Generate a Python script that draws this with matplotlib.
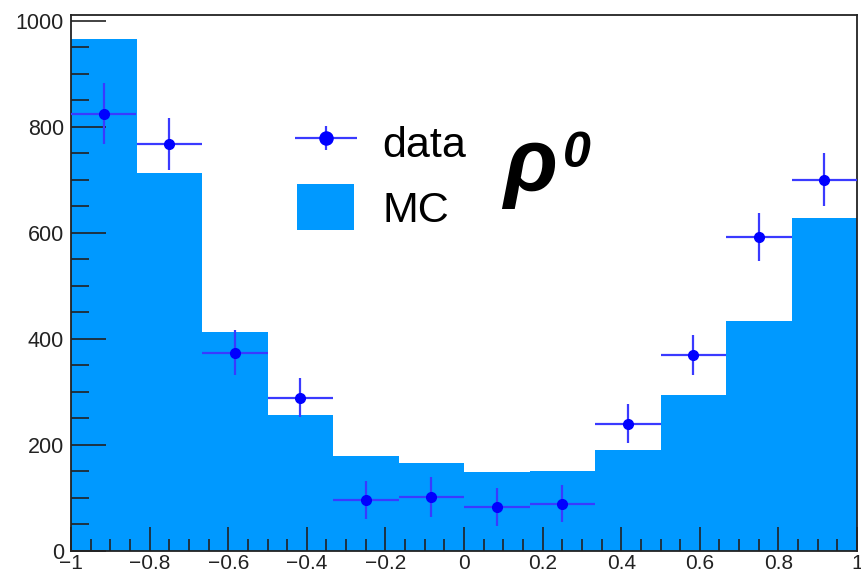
import numpy as np
import matplotlib
matplotlib.use("Agg")
import matplotlib.pyplot as plt
from matplotlib.patches import Patch
from matplotlib.container import ErrorbarContainer
from matplotlib.legend_handler import HandlerErrorbar
from matplotlib.ticker import MultipleLocator, FixedLocator, FixedFormatter

plt.rcParams['font.family'] = ['Liberation Sans', 'DejaVu Sans']

# --- data ---
bin_edges = np.linspace(-1, 1, 13)
mc_counts = [966, 713, 413, 257, 179, 166, 149, 151, 191, 294, 434, 628]
data_counts = [825, 768, 374, 289, 96, 102, 83, 89, 240, 370, 592, 700]
data_errors = [58, 49, 42, 37, 36, 38, 36, 35, 37, 38, 45, 50]
xtick_values = [-1, -0.8, -0.6, -0.4, -0.2, 0, 0.2, 0.4, 0.6, 0.8, 1]
xtick_labels = ["\u22121", "\u22120.8", "\u22120.6", "\u22120.4", "\u22120.2", "0", "0.2", "0.4", "0.6", "0.8", "1"]
ytick_values = [0, 200, 400, 600, 800, 1000]
ytick_labels = ["0", "200", "400", "600", "800", "1000"]

W, H = 861, 574
fig = plt.figure(figsize=(W / 100, H / 100), dpi=100)
ax = fig.add_axes([71 / W, 1 - 551 / H, (857 - 71) / W, (551 - 15) / H])

mc_color = '#0099ff'
data_color = '#0000ff'

ax.stairs(mc_counts, bin_edges, fill=True, color=mc_color, linewidth=0)

centers = 0.5 * (bin_edges[:-1] + bin_edges[1:])
half_w = 0.5 * np.diff(bin_edges)
eb = ax.errorbar(centers, data_counts, yerr=data_errors, xerr=half_w,
                 fmt='o', color=data_color, ecolor='#3a3aff', elinewidth=1.6,
                 markersize=7, capsize=0, zorder=3)

ax.set_xlim(-1, 1)
ax.set_ylim(0, 1011)

ax.xaxis.set_major_locator(FixedLocator(xtick_values))
ax.xaxis.set_major_formatter(FixedFormatter(xtick_labels))
ax.xaxis.set_minor_locator(MultipleLocator(0.05))
ax.yaxis.set_major_locator(FixedLocator(ytick_values))
ax.yaxis.set_major_formatter(FixedFormatter(ytick_labels))
ax.yaxis.set_minor_locator(MultipleLocator(50))

ax.tick_params(axis='x', which='major', direction='in', length=17, width=1.2,
               labelsize=15, pad=2.5, top=False, colors='#222222')
ax.tick_params(axis='x', which='minor', direction='in', length=9, width=1.2, top=False, color='#222222')
ax.tick_params(axis='y', which='major', direction='in', length=25, width=1.2,
               labelsize=15.5, pad=5, right=False, colors='#222222')
ax.tick_params(axis='y', which='minor', direction='in', length=13, width=1.2, right=False, color='#222222')
for sp in ax.spines.values():
    sp.set_linewidth(1.3)
    sp.set_color('#222222')

handles = [eb, Patch(facecolor=mc_color, edgecolor='none')]
leg = ax.legend(handles, ['data', 'MC'], loc='upper left',
                bbox_to_anchor=(297 / W, 1 - 119 / H), bbox_transform=fig.transFigure,
                frameon=False, fontsize=31, handlelength=1.33, handleheight=1.29,
                handletextpad=0.65, labelspacing=0.42, borderpad=0.0, borderaxespad=0.0,
                markerscale=1.35,
                handler_map={ErrorbarContainer: HandlerErrorbar(xerr_size=0.72, yerr_size=0.28)})

fig.text(503 / W, 1 - 190 / H, "\u03c1", fontsize=64, fontweight='bold', fontstyle='italic',
         ha='left', va='baseline', color='black')
fig.text(563 / W, 1 - 167 / H, "0", fontsize=36, fontweight='bold', fontstyle='italic',
         ha='left', va='baseline', color='black')

fig.savefig('out.png', dpi=100)
